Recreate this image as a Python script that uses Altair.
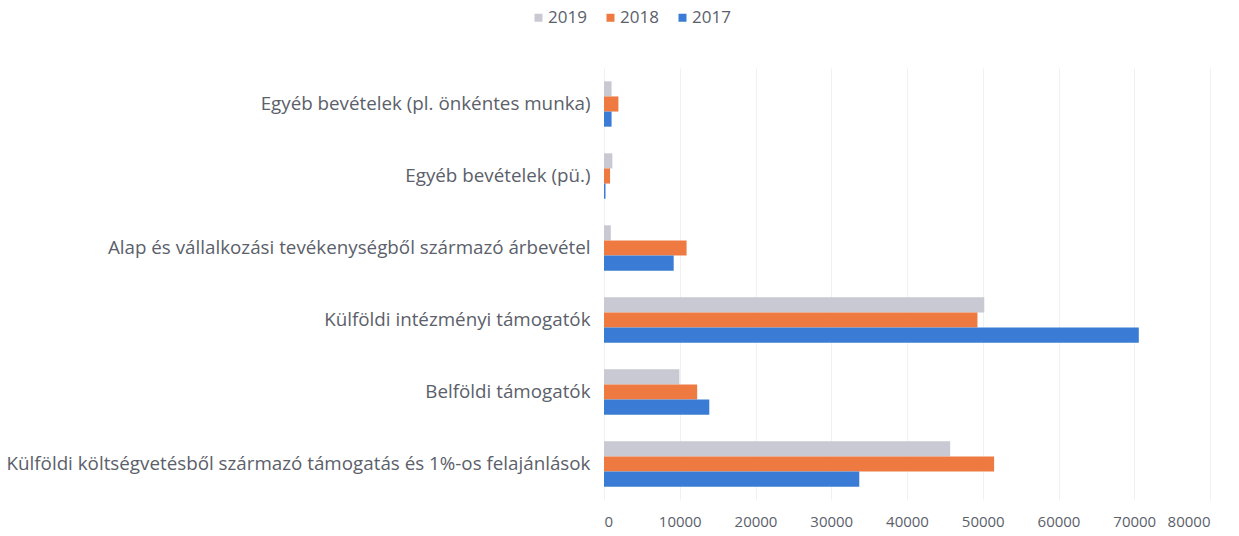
import altair as alt
import pandas as pd

categories = [
    "Egyéb bevételek (pl. önkéntes munka)",
    "Egyéb bevételek (pü.)",
    "Alap és vállalkozási tevékenységből származó árbevétel",
    "Külföldi intézményi támogatók",
    "Belföldi támogatók",
    "Külföldi költségvetésből származó támogatás és 1%-os felajánlások",
]
years = ["2019", "2018", "2017"]
v2019 = [1000, 1100, 900, 50200, 9950, 45700]
v2018 = [1900, 800, 10900, 49300, 12300, 51500]
v2017 = [1000, 200, 9200, 70600, 13900, 33700]
colors = ["#C8C9D2", "#EE7A42", "#3A7CD5"]
x_ticks = [0, 10000, 20000, 30000, 40000, 50000, 60000, 70000, 80000]

rows = []
for yr, vals in zip(years, [v2019, v2018, v2017]):
    for c, v in zip(categories, vals):
        rows.append({"cat": c, "year": yr, "value": v})
df = pd.DataFrame(rows)

chart = alt.Chart(df).mark_bar().encode(
    y=alt.Y("cat:N", sort=categories, title=None,
            scale=alt.Scale(paddingInner=0.37, paddingOuter=0.185),
            axis=alt.Axis(labelLimit=800, labelFontSize=18.8, labelColor="#5b606a",
                          labelPadding=14, ticks=False, domain=False, grid=False,
                          labelFont="Open Sans")),
    yOffset=alt.YOffset("year:N", sort=years),
    x=alt.X("value:Q", title=None,
            scale=alt.Scale(domain=[0, 80000], nice=False),
            axis=alt.Axis(values=x_ticks, format="d", labelFontSize=15, labelColor="#5b606a",
                          labelFont="Open Sans", ticks=False, domain=False,
                          gridColor="#f1f1f1", labelPadding=14)),
    color=alt.Color("year:N", sort=years,
                    scale=alt.Scale(domain=years, range=colors),
                    legend=alt.Legend(title=None, orient="none", direction="horizontal",
                                      legendX=-74, legendY=-59, symbolType="square",
                                      symbolSize=64, labelFontSize=17, labelColor="#5b606a",
                                      labelFont="Open Sans", columnPadding=15, labelOffset=1,
                                      symbolStrokeWidth=0)),
).properties(
    width=606, height=432,
    autosize=alt.AutoSizeParams(type="none"),
    padding={"left": 604, "top": 68, "right": 29, "bottom": 36},
).configure_view(stroke=None)

chart.save("out.html", embed_options={"renderer": "svg", "actions": False})
